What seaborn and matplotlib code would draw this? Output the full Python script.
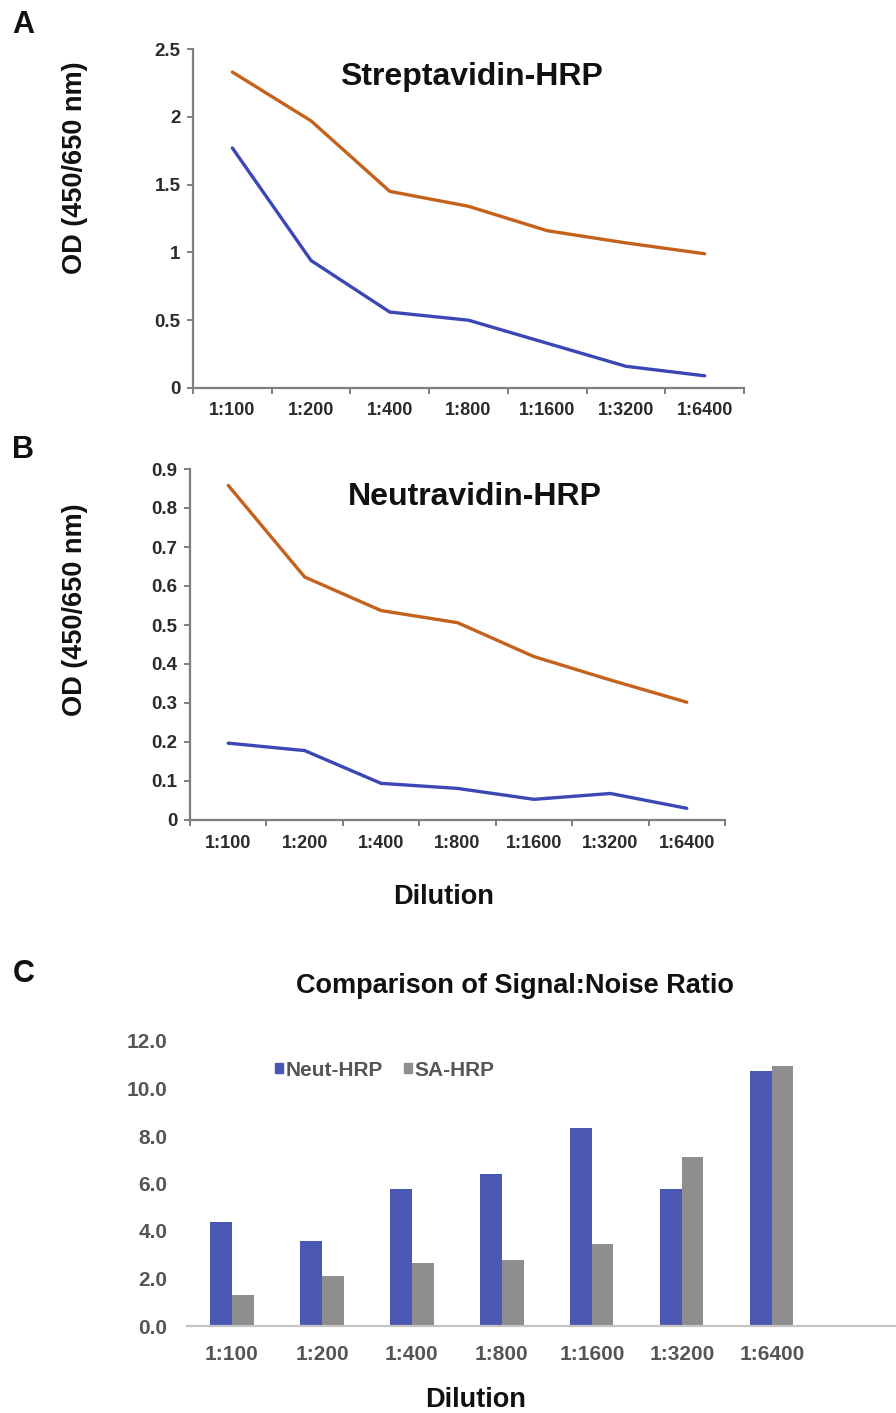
import numpy as np
import pandas as pd
import matplotlib
matplotlib.use("Agg")
import matplotlib.pyplot as plt
import seaborn as sns

# ---------------------------------------------------------------------------
# Data
# ---------------------------------------------------------------------------
dilutions = ['1:100', '1:200', '1:400', '1:800', '1:1600', '1:3200', '1:6400']

sa_signal = [2.33, 1.97, 1.45, 1.34, 1.16, 1.07, 0.99]
sa_noise = [1.77, 0.94, 0.56, 0.50, 0.33, 0.16, 0.09]

neut_signal = [0.858, 0.623, 0.537, 0.506, 0.419, 0.359, 0.302]
neut_noise = [0.197, 0.178, 0.094, 0.081, 0.053, 0.068, 0.030]

ratio_neut = [4.36, 3.57, 5.75, 6.42, 8.35, 5.75, 10.74]
ratio_sa = [1.29, 2.09, 2.66, 2.77, 3.44, 7.10, 10.95]

bar_labels = ['Neut-HRP', 'SA-HRP']

# ---------------------------------------------------------------------------
# Style
# ---------------------------------------------------------------------------
sns.set_style('white')
plt.rcParams['font.family'] = ['Liberation Sans', 'DejaVu Sans']
plt.rcParams['font.weight'] = 'bold'
plt.rcParams['text.color'] = '#111111'
plt.rcParams['axes.labelcolor'] = '#111111'

ORANGE = '#C4621C'
BLUE_LINE = '#3B47B5'
BLUE_BAR = '#4A58B3'
GRAY_BAR = '#8E8E8E'
SPINE = '#7f7f7f'
TICK_TXT = '#2b2b2b'

W, H = 896, 1413
fig = plt.figure(figsize=(W / 100, H / 100), dpi=100)


def fig_axes(x0, y0, x1, y1):
    return fig.add_axes([x0 / W, 1 - y1 / H, (x1 - x0) / W, (y1 - y0) / H])


def style_line_axes(ax, ymax, ystep, fmt, xpad):
    ax.set_xlim(-0.5, len(dilutions) - 0.5)
    ax.set_ylim(0, ymax)
    ax.set_yticks(np.arange(0, ymax + 1e-9, ystep))
    ax.set_yticklabels([fmt(v) for v in np.arange(0, ymax + 1e-9, ystep)])
    ax.set_xticks(range(len(dilutions)))
    ax.set_xticklabels(dilutions)
    ax.set_xticks(np.arange(-0.5, len(dilutions), 1), minor=True)
    for side in ['top', 'right']:
        ax.spines[side].set_visible(False)
    for side in ['left', 'bottom']:
        ax.spines[side].set_color(SPINE)
        ax.spines[side].set_linewidth(1.6)
    ax.tick_params(axis='x', which='major', length=0, pad=xpad,
                   labelsize=13, labelcolor=TICK_TXT)
    ax.tick_params(axis='x', which='minor', length=4, width=1.4,
                   color=SPINE, direction='out', bottom=True)
    ax.tick_params(axis='y', length=4, width=1.4, color=SPINE, left=True,
                   direction='out', pad=5, labelsize=13.5, labelcolor=TICK_TXT)
    for lbl in ax.get_xticklabels() + ax.get_yticklabels():
        lbl.set_fontweight('bold')
    ax.set_xlabel('')


def line_panel(ax, signal, noise):
    df = pd.DataFrame({
        'dilution': dilutions * 2,
        'od': signal + noise,
        'series': ['Signal'] * len(dilutions) + ['Noise'] * len(dilutions),
    })
    sns.lineplot(data=df, x='dilution', y='od', hue='series', sort=False,
                 palette={'Signal': ORANGE, 'Noise': BLUE_LINE},
                 linewidth=2.4, legend=False, ax=ax)


def fmt_a(v):
    return '0' if v == 0 else ('%g' % v)


def fmt_b(v):
    return '0' if abs(v) < 1e-9 else '%.1f' % v


# ---------------------------------------------------------------------------
# Panel A: Streptavidin-HRP
# ---------------------------------------------------------------------------
ax_a = fig_axes(193, 49, 744, 388)
line_panel(ax_a, sa_signal, sa_noise)
style_line_axes(ax_a, 2.5, 0.5, fmt_a, xpad=10)
ax_a.set_ylabel('OD (450/650 nm)', fontsize=19.5, fontweight='bold')
ax_a.yaxis.set_label_coords(-0.19, 0.65)
ax_a.text(0.505, 0.916, 'Streptavidin-HRP', transform=ax_a.transAxes,
          ha='center', va='center', fontsize=23, fontweight='bold')

# ---------------------------------------------------------------------------
# Panel B: Neutravidin-HRP
# ---------------------------------------------------------------------------
ax_b = fig_axes(190, 469, 725, 820)
line_panel(ax_b, neut_signal, neut_noise)
style_line_axes(ax_b, 0.9, 0.1, fmt_b, xpad=11)
ax_b.set_ylabel('OD (450/650 nm)', fontsize=19.5, fontweight='bold')
ax_b.yaxis.set_label_coords(-0.19, 0.60)
ax_b.text(0.532, 0.919, 'Neutravidin-HRP', transform=ax_b.transAxes,
          ha='center', va='center', fontsize=23, fontweight='bold')
fig.text(444 / W, 1 - 897 / H, 'Dilution', ha='center', va='center',
         fontsize=19.5, fontweight='bold')

# ---------------------------------------------------------------------------
# Panel C: Signal:Noise bars
# ---------------------------------------------------------------------------
ax_c = fig_axes(187, 1041, 896, 1326)
dfc = pd.DataFrame({
    'dilution': dilutions * 2,
    'ratio': ratio_neut + ratio_sa,
    'reagent': [bar_labels[0]] * len(dilutions) + [bar_labels[1]] * len(dilutions),
})
sns.barplot(data=dfc, x='dilution', y='ratio', hue='reagent',
            palette=[BLUE_BAR, GRAY_BAR], width=0.48, saturation=1,
            edgecolor='none', legend=False, ax=ax_c)
ax_c.set_xlim(-0.5, 7.38)
ax_c.set_ylim(0, 12)
ax_c.set_yticks(np.arange(0, 12.1, 2))
ax_c.set_yticklabels(['%.1f' % v for v in np.arange(0, 12.1, 2)])
for side in ['top', 'right', 'left']:
    ax_c.spines[side].set_visible(False)
ax_c.spines['bottom'].set_color('#c4c4c4')
ax_c.spines['bottom'].set_linewidth(1.6)
ax_c.tick_params(axis='x', length=0, pad=14, labelsize=15, labelcolor='#555555')
ax_c.tick_params(axis='y', length=0, pad=14, labelsize=15, labelcolor='#555555')
for lbl in ax_c.get_xticklabels() + ax_c.get_yticklabels():
    lbl.set_fontweight('bold')
ax_c.set_xlabel('')
ax_c.set_ylabel('')

handles = [plt.Rectangle((0, 0), 1, 1, color=c) for c in [BLUE_BAR, GRAY_BAR]]
leg = fig.legend(handles, bar_labels, loc='center left',
                 bbox_to_anchor=(256 / W, 1 - 1070 / H), ncol=2, frameon=False,
                 handlelength=0.4, handleheight=0.4, handletextpad=0.12,
                 columnspacing=1.0, prop={'size': 15, 'weight': 'bold'})
for t in leg.get_texts():
    t.set_color('#555555')

fig.text(515 / W, 1 - 986 / H, 'Comparison of Signal:Noise Ratio',
         ha='center', va='center', fontsize=19.5, fontweight='bold')
fig.text(476 / W, 1 - 1400 / H, 'Dilution', ha='center', va='center',
         fontsize=19.5, fontweight='bold')

# Panel letters
for letter, (px, py) in {'A': (23.5, 25), 'B': (23, 450), 'C': (23.5, 974)}.items():
    fig.text(px / W, 1 - py / H, letter, ha='center', va='center',
             fontsize=22, fontweight='bold')

fig.savefig('out.png', dpi=100)
